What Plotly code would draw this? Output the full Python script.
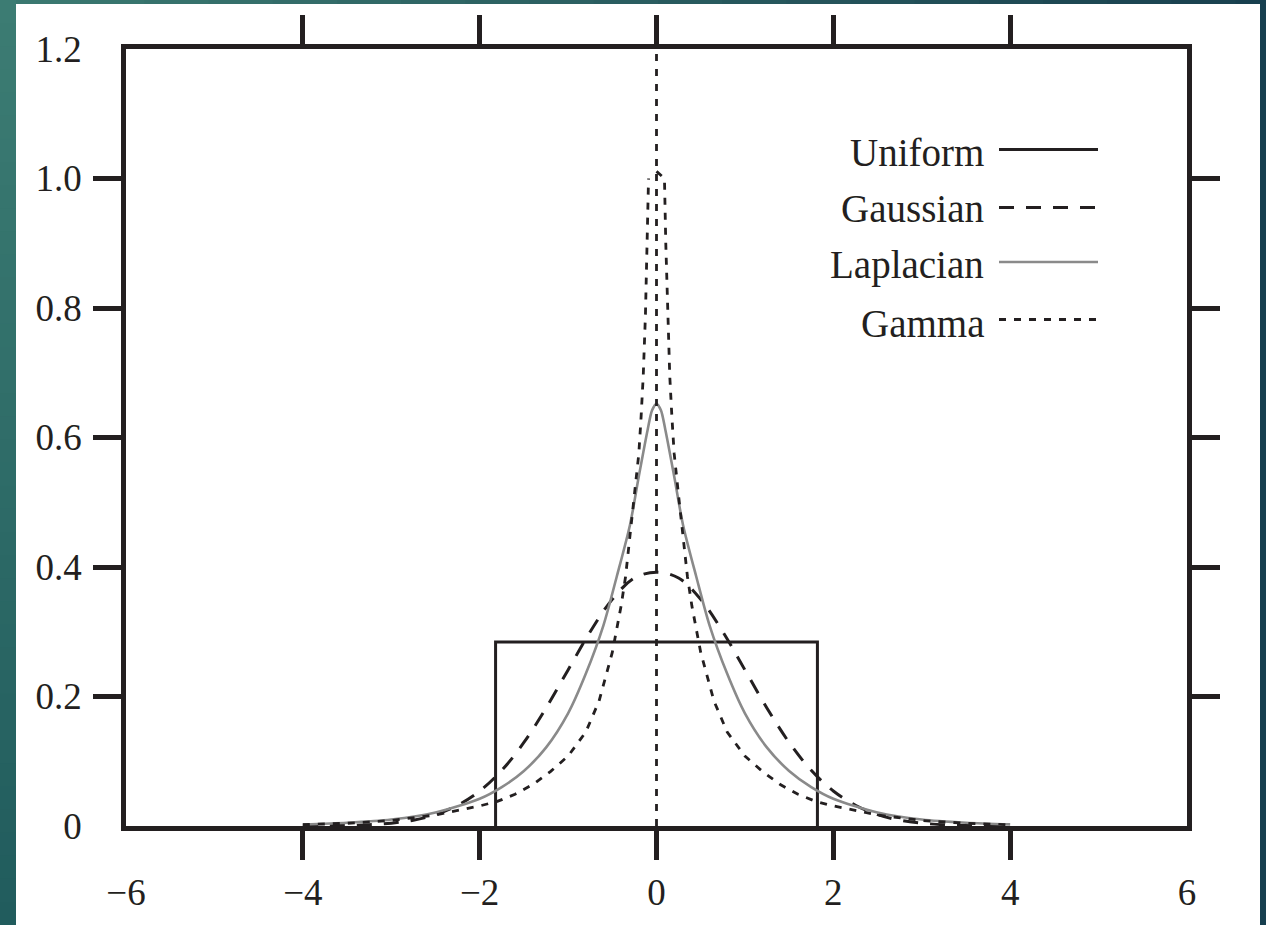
import plotly.graph_objects as go

INK = "#231f20"
GREY = "#8a8a8a"
FONT = "Liberation Serif, Times New Roman, serif"

# ---- data ----
uniform_x = [-1.82, -1.82, 1.82, 1.82]
uniform_y = [0.0, 0.284, 0.284, 0.0]

gauss_x = [-4.0, -3.75, -3.5, -3.25, -3.0, -2.75, -2.5, -2.25, -2.0, -1.75, -1.5, -1.25,
           -1.0, -0.75, -0.5, -0.25, 0.0, 0.25, 0.5, 0.75, 1.0, 1.25, 1.5, 1.75, 2.0,
           2.25, 2.5, 2.75, 3.0, 3.25, 3.5, 3.75, 4.0]
gauss_y = [0.0001, 0.0004, 0.0009, 0.002, 0.0044, 0.009, 0.0175, 0.032, 0.054, 0.086,
           0.129, 0.182, 0.241, 0.300, 0.350, 0.383, 0.392, 0.383, 0.350, 0.300, 0.241,
           0.182, 0.129, 0.086, 0.054, 0.032, 0.0175, 0.009, 0.0044, 0.002, 0.0009,
           0.0004, 0.0001]

laplace_x = [-4.0, -3.5, -3.0, -2.5, -2.0, -1.75, -1.5, -1.25, -1.0, -0.8, -0.6, -0.45,
             -0.3, -0.2, -0.1, -0.05, 0.0, 0.05, 0.1, 0.2, 0.3, 0.45, 0.6, 0.8, 1.0, 1.25,
             1.5, 1.75, 2.0, 2.5, 3.0, 3.5, 4.0]
laplace_y = [0.0025, 0.005, 0.010, 0.021, 0.042, 0.060, 0.085, 0.121, 0.174, 0.235, 0.31,
             0.385, 0.465, 0.54, 0.612, 0.642, 0.652, 0.642, 0.612, 0.54, 0.465, 0.385,
             0.31, 0.235, 0.174, 0.121, 0.085, 0.060, 0.042, 0.021, 0.010, 0.005, 0.0025]

gamma_x = [-4.0, -3.5, -3.0, -2.5, -2.0, -1.8, -1.6, -1.4, -1.2, -1.0, -0.8, -0.65, -0.5,
           -0.4, -0.35, -0.3, -0.25, -0.2, -0.175, -0.15, -0.125, -0.105, -0.09,
           None, 0.0, 0.0, None,
           0.0, 0.09, 0.105, 0.125, 0.15, 0.175, 0.2, 0.25, 0.3, 0.35, 0.4, 0.5, 0.65,
           0.8, 1.0, 1.2, 1.4, 1.6, 1.8, 2.0, 2.5, 3.0, 3.5, 4.0]
gamma_y = [0.002, 0.0042, 0.0085, 0.017, 0.031, 0.038, 0.049, 0.064, 0.084, 0.108, 0.145,
           0.193, 0.268, 0.34, 0.385, 0.45, 0.51, 0.575, 0.63, 0.695, 0.79, 0.9, 1.0,
           None, 0.0, 1.2, None,
           1.011, 1.0, 0.9, 0.79, 0.695, 0.63, 0.575, 0.51, 0.45, 0.385, 0.34, 0.268,
           0.193, 0.145, 0.108, 0.084, 0.064, 0.049, 0.038, 0.031, 0.017, 0.0085, 0.0042,
           0.002]

x_label_vals = [-6, -4, -2, 0, 2, 4, 6]
x_label_text = ["\u22126", "\u22124", "\u22122", "0", "2", "4", "6"]
x_tick_vals = [-4, -2, 0, 2, 4]
y_label_vals = [0, 0.2, 0.4, 0.6, 0.8, 1.0, 1.2]
y_label_text = ["0", "0.2", "0.4", "0.6", "0.8", "1.0", "1.2"]
y_tick_vals = [0.2, 0.4, 0.6, 0.8, 1.0]

legend_names = ["Uniform", "Gaussian", "Laplacian", "Gamma"]

styles = {
    "Uniform": dict(color=INK, width=3.0, dash="solid"),
    "Gaussian": dict(color=INK, width=3.0, dash="15px,12px"),
    "Laplacian": dict(color=GREY, width=2.6, dash="solid"),
    "Gamma": dict(color=INK, width=2.8, dash="7px,8px"),
}

fig = go.Figure()
fig.add_trace(go.Scatter(x=uniform_x, y=uniform_y, mode="lines", name="Uniform",
                         line=styles["Uniform"]))
fig.add_trace(go.Scatter(x=gauss_x, y=gauss_y, mode="lines", name="Gaussian",
                         line=dict(**styles["Gaussian"], shape="spline", smoothing=1.0)))
fig.add_trace(go.Scatter(x=laplace_x, y=laplace_y, mode="lines", name="Laplacian",
                         line=dict(**styles["Laplacian"], shape="spline", smoothing=0.8)))
fig.add_trace(go.Scatter(x=gamma_x, y=gamma_y, mode="lines", name="Gamma",
                         line=styles["Gamma"], connectgaps=False))

# plot area (margins) -- axis lines are drawn half a line width outside it
ML, MR, MT, MB = 126, 79, 49, 99
W, H = 1266, 925
PW, PH = W - ML - MR, H - MT - MB


def px_x(p):
    return (p - ML) / PW


def px_y(p):
    return (H - MB - p) / PH


def mix(c1, c2, t):
    a = [int(c1[i:i + 2], 16) for i in (1, 3, 5)]
    b = [int(c2[i:i + 2], 16) for i in (1, 3, 5)]
    return "#" + "".join(f"{round(a[k] + (b[k] - a[k]) * t):02x}" for k in range(3))


shapes = []
# left strip, smooth vertical gradient (bands overlap to hide seams)
NB = 40
for i in range(NB):
    y_top = -20 if i == 0 else H * i / NB
    y_bot = 1000 if i == NB - 1 else H * (i + 1) / NB + 3
    shapes.append(dict(type="rect", xref="paper", yref="paper",
                       x0=px_x(-20), x1=px_x(16), y0=px_y(y_bot), y1=px_y(y_top),
                       fillcolor=mix("#3c7c73", "#215c5d", i / (NB - 1)),
                       line=dict(width=0), layer="below"))
# top strip, horizontal gradient
NT = 20
for i in range(NT):
    x_l = 16 + (1300 - 16) * i / NT
    x_r = 16 + (1300 - 16) * (i + 1) / NT + 3
    shapes.append(dict(type="rect", xref="paper", yref="paper", x0=px_x(x_l), x1=px_x(x_r),
                       y0=px_y(4), y1=px_y(-20),
                       fillcolor=mix("#3a7870", "#183f4e", i / (NT - 1)),
                       line=dict(width=0), layer="below"))
shapes += [
    dict(type="rect", xref="paper", yref="paper", x0=px_x(16), x1=px_x(1260), y0=px_y(1000),
         y1=px_y(4), fillcolor="white", line=dict(width=0), layer="below"),
    dict(type="rect", xref="paper", yref="paper", x0=px_x(1260), x1=px_x(1300),
         y0=px_y(1000), y1=px_y(-20), fillcolor="#173f4f", line=dict(width=0), layer="below"),
]

# manual legend (text right, line sample to the right)
leg_line_y = [149.5, 207.5, 262.0, 319.5]
leg_text_y = [152.0, 209.0, 265.0, 323.0]
annotations = []
for name, ly, ty in zip(legend_names, leg_line_y, leg_text_y):
    st = styles[name]
    shapes.append(dict(type="line", xref="paper", yref="paper", x0=px_x(999), x1=px_x(1098),
                       y0=px_y(ly), y1=px_y(ly),
                       line=dict(color=st["color"], width=st["width"], dash=st["dash"])))
    annotations.append(dict(text=name, xref="paper", yref="paper", x=px_x(986), y=px_y(ty),
                            xanchor="right", yanchor="middle", showarrow=False,
                            font=dict(family=FONT, size=39, color=INK)))

fig.update_layout(
    width=W, height=H, autosize=False,
    margin=dict(l=ML, r=MR, t=MT, b=MB, pad=0),
    paper_bgcolor="white", plot_bgcolor="rgba(0,0,0,0)",
    showlegend=False, shapes=shapes, annotations=annotations,
    font=dict(family=FONT, color=INK),
)

fig.update_xaxes(range=[-6, 6], showline=True, linewidth=4.5, linecolor=INK, mirror="ticks",
                 tickmode="array", tickvals=x_label_vals, ticktext=x_label_text, ticks="",
                 showgrid=False, zeroline=False, ticklabelstandoff=30,
                 tickfont=dict(family=FONT, size=37, color=INK),
                 minor=dict(tickmode="array", tickvals=x_tick_vals, ticks="outside",
                            ticklen=29, tickwidth=4.5, tickcolor=INK, showgrid=False))
fig.update_yaxes(range=[0, 1.2], showline=True, linewidth=4.5, linecolor=INK, mirror="ticks",
                 tickmode="array", tickvals=y_label_vals, ticktext=y_label_text, ticks="",
                 showgrid=False, zeroline=False, ticklabelstandoff=32,
                 tickfont=dict(family=FONT, size=37, color=INK),
                 minor=dict(tickmode="array", tickvals=y_tick_vals, ticks="outside",
                            ticklen=28, tickwidth=4.5, tickcolor=INK, showgrid=False))

fig.write_html(
    "out.html",
    config={"displayModeBar": False},
    post_script=("document.documentElement.style.margin='0';"
                 "document.body.style.margin='0';document.body.style.overflow='hidden';"
                 "document.body.style.background='#2a6764';"),
)
